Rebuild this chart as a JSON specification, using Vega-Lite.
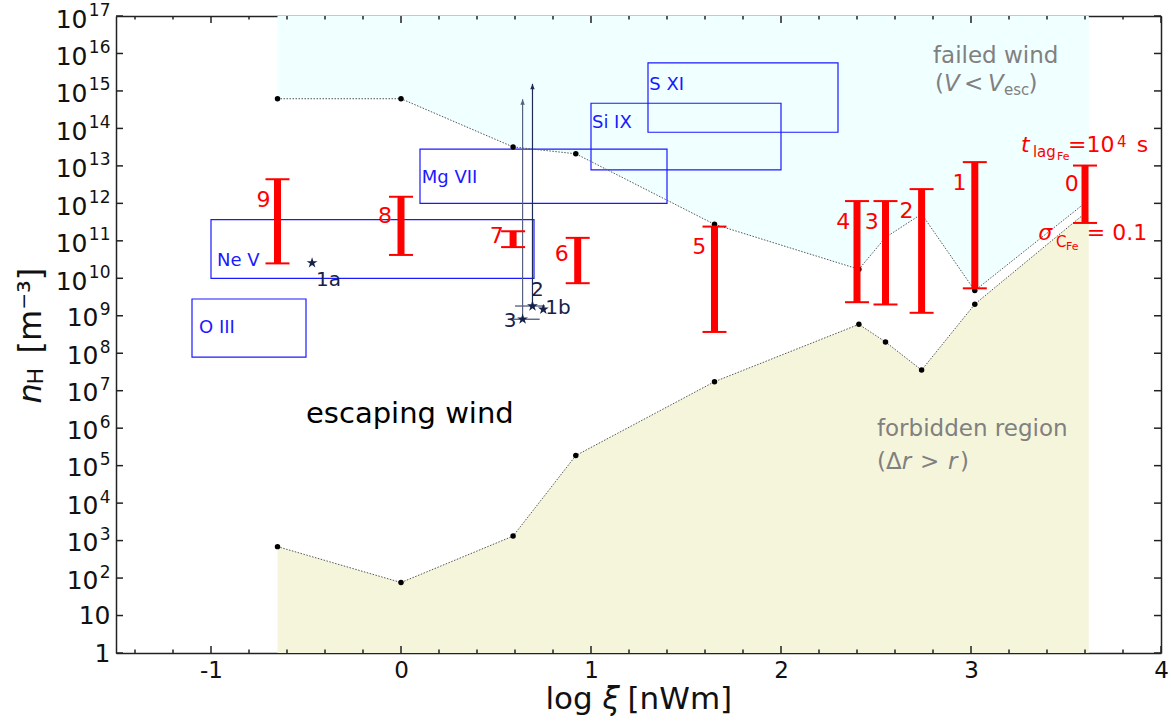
{
  "$schema": "https://vega.github.io/schema/vega-lite/v6.json",
  "width": 1045,
  "height": 637,
  "autosize": {"type": "none"},
  "padding": {"left": 116, "top": 16, "right": 10, "bottom": 69},
  "background": "white",
  "datasets": {
    "bound": [
      {"x": -0.65, "upper": 6.2e14, "lower": 690},
      {"x": 0, "upper": 6.2e14, "lower": 76},
      {"x": 0.59, "upper": 3.2e13, "lower": 1320},
      {"x": 0.92, "upper": 2.1e13, "lower": 1.86e5},
      {"x": 1.65, "upper": 2.75e11, "lower": 1.74e7},
      {"x": 2.41, "upper": 1.74e10, "lower": 5.9e8},
      {"x": 2.55, "upper": 1.23e11, "lower": 2.0e8},
      {"x": 2.74, "upper": 5.2e11, "lower": 3.55e7},
      {"x": 3.02, "upper": 4.7e9, "lower": 2.04e9},
      {"x": 3.62, "upper": 1.23e12, "lower": 6.6e11}
    ],
    "bars": [
      {"id": "9", "x": -0.65, "lo": 2.5e10, "hi": 4.4e12},
      {"id": "8", "x": 0, "lo": 4.2e10, "hi": 1.5e12},
      {"id": "7", "x": 0.59, "lo": 6.8e10, "hi": 1.8e11},
      {"id": "6", "x": 0.93, "lo": 7.4e9, "hi": 1.2e11},
      {"id": "5", "x": 1.65, "lo": 3.7e8, "hi": 2.4e11},
      {"id": "4", "x": 2.4, "lo": 2.3e9, "hi": 1.15e12},
      {"id": "3", "x": 2.55, "lo": 2.0e9, "hi": 1.15e12},
      {"id": "2", "x": 2.74, "lo": 1.2e9, "hi": 2.4e12},
      {"id": "1", "x": 3.02, "lo": 5.4e9, "hi": 1.26e13},
      {"id": "0", "x": 3.6, "lo": 3.0e11, "hi": 1.02e13}
    ],
    "barLabels": [
      {"t": "9", "x": -0.724, "y": 1.23e12},
      {"t": "8", "x": -0.084, "y": 4.57e11},
      {"t": "7", "x": 0.504, "y": 1.35e11},
      {"t": "6", "x": 0.846, "y": 4.37e10},
      {"t": "5", "x": 1.57, "y": 6.76e10},
      {"t": "4", "x": 2.328, "y": 3.24e11},
      {"t": "3", "x": 2.477, "y": 3.24e11},
      {"t": "2", "x": 2.66, "y": 6.3e11},
      {"t": "1", "x": 2.94, "y": 3.39e12},
      {"t": "0", "x": 3.53, "y": 3.24e12}
    ],
    "boxes": [
      {"name": "Ne V", "x1": -1.0, "x2": 0.7, "y1": 1e10, "y2": 3.7e11},
      {"name": "O III", "x1": -1.1, "x2": -0.5, "y1": 7.9e7, "y2": 2.8e9},
      {"name": "Mg VII", "x1": 0.1, "x2": 1.4, "y1": 1e12, "y2": 2.8e13},
      {"name": "Si IX", "x1": 1.0, "x2": 2.0, "y1": 7.8e12, "y2": 4.7e14},
      {"name": "S XI", "x1": 1.3, "x2": 2.3, "y1": 7.9e13, "y2": 5.6e15}
    ],
    "boxLabels": [
      {"t": "Ne V", "x": -0.968, "y": 2.88e10},
      {"t": "O III", "x": -1.063, "y": 4.68e8},
      {"t": "Mg VII", "x": 0.109, "y": 4.68e12},
      {"t": "Si IX", "x": 1.005, "y": 1.41e14},
      {"t": "S XI", "x": 1.307, "y": 1.45e15}
    ],
    "stars": [
      {"id": "1a", "x": -0.468, "y": 2.57e10},
      {"id": "2", "x": 0.692, "y": 1.82e9},
      {"id": "1b", "x": 0.749, "y": 1.48e9},
      {"id": "3", "x": 0.64, "y": 8.1e8}
    ],
    "starErr": [
      {"id": "2", "x1": 0.6, "x2": 0.758, "y": 1.82e9},
      {"id": "3", "x1": 0.58, "x2": 0.73, "y": 8.1e8}
    ],
    "arrows": [
      {"id": "2", "x": 0.692, "y1": 1.82e9, "y2": 1.55e15},
      {"id": "3", "x": 0.64, "y1": 8.1e8, "y2": 6.0e14}
    ],
    "starLabels": [
      {"t": "1a", "x": -0.382, "y": 8.9e9},
      {"t": "2", "x": 0.718, "y": 4.9e9},
      {"t": "1b", "x": 0.826, "y": 1.58e9},
      {"t": "3", "x": 0.574, "y": 7.2e8}
    ],
    "redText": [
      {"t": "=10", "x": 3.511, "y": 2.39e13},
      {"t": "s", "x": 3.872, "y": 2.39e13},
      {"t": "= 0.1", "x": 3.609, "y": 1.05e11}
    ],
    "redItalic": [
      {"t": "t", "x": 3.263, "y": 2.39e13},
      {"t": "σ", "x": 3.354, "y": 1.05e11}
    ],
    "redSub": [
      {"t": "lag", "x": 3.326, "y": 1.76e13},
      {"t": "C", "x": 3.447, "y": 6.97e10},
      {"t": "4", "x": 3.768, "y": 3.25e13}
    ],
    "redSub2": [
      {"t": "Fe", "x": 3.453, "y": 1.44e13},
      {"t": "Fe", "x": 3.5, "y": 5.69e10}
    ],
    "grayText": [
      {"t": "failed wind", "x": 2.8, "y": 5.57e15},
      {"t": "(", "x": 2.811, "y": 1.02e15},
      {"t": "<", "x": 2.963, "y": 1.02e15},
      {"t": ")", "x": 3.303, "y": 1.02e15},
      {"t": "forbidden region", "x": 2.505, "y": 6.18e5},
      {"t": "(Δ", "x": 2.505, "y": 8.15e4},
      {"t": ">", "x": 2.732, "y": 8.15e4},
      {"t": ")", "x": 2.942, "y": 8.15e4}
    ],
    "grayItalic": [
      {"t": "V", "x": 2.858, "y": 1.02e15},
      {"t": "V", "x": 3.089, "y": 1.02e15},
      {"t": "r", "x": 2.635, "y": 8.15e4},
      {"t": "r", "x": 2.879, "y": 8.15e4}
    ],
    "graySub": [
      {"t": "esc", "x": 3.174, "y": 7.8e14}
    ],
    "blackText": [
      {"t": "escaping wind", "x": -0.5, "y": 1.37e6}
    ],
    "xMajor": [{"v": -1}, {"v": 0}, {"v": 1}, {"v": 2}, {"v": 3}, {"v": 4}],
    "xMinor": [{"v": -1.4}, {"v": -1.2}, {"v": -0.8}, {"v": -0.6}, {"v": -0.4}, {"v": -0.2}, {"v": 0.2}, {"v": 0.4}, {"v": 0.6}, {"v": 0.8}, {"v": 1.2}, {"v": 1.4}, {"v": 1.6}, {"v": 1.8}, {"v": 2.2}, {"v": 2.4}, {"v": 2.6}, {"v": 2.8}, {"v": 3.2}, {"v": 3.4}, {"v": 3.6}, {"v": 3.8}],
    "yMajor": [{"v": 1}, {"v": 10}, {"v": 100}, {"v": 1000}, {"v": 1e4}, {"v": 1e5}, {"v": 1e6}, {"v": 1e7}, {"v": 1e8}, {"v": 1e9}, {"v": 1e10}, {"v": 1e11}, {"v": 1e12}, {"v": 1e13}, {"v": 1e14}, {"v": 1e15}, {"v": 1e16}, {"v": 1e17}],
    "dummy": [{"x": 0, "y": 1}]
  },
  "resolve": {"axis": {"x": "independent", "y": "independent"}},
  "layer": [
    {
      "data": {"name": "bound"},
      "mark": {"type": "area", "color": "#F0FFFF", "opacity": 1},
      "encoding": {
        "x": {"field": "x", "type": "quantitative", "scale": {"type": "linear", "domain": [-1.5, 4], "nice": false, "zero": false}, "axis": null},
        "y": {"field": "upper", "type": "quantitative", "scale": {"type": "log", "domain": [1, 1e17], "nice": false}, "axis": null},
        "y2": {"datum": 1e17}
      }
    },
    {
      "data": {"name": "bound"},
      "mark": {"type": "area", "color": "#F5F5DC", "opacity": 1},
      "encoding": {
        "x": {"field": "x", "type": "quantitative", "axis": null},
        "y": {"field": "lower", "type": "quantitative", "axis": null},
        "y2": {"datum": 1}
      }
    },
    {
      "data": {"name": "boxes"},
      "mark": {"type": "rect", "fill": null, "stroke": "#1a1aff", "strokeWidth": 1.2},
      "encoding": {
        "x": {"field": "x1", "type": "quantitative", "axis": null},
        "x2": {"field": "x2"},
        "y": {"field": "y1", "type": "quantitative", "axis": null},
        "y2": {"field": "y2"}
      }
    },
    {
      "data": {"name": "bound"},
      "mark": {"type": "line", "color": "#555", "strokeWidth": 1, "strokeDash": [1.5, 1.5]},
      "encoding": {
        "x": {"field": "x", "type": "quantitative", "axis": null},
        "y": {"field": "upper", "type": "quantitative", "axis": null}
      }
    },
    {
      "data": {"name": "bound"},
      "mark": {"type": "line", "color": "#555", "strokeWidth": 1, "strokeDash": [1.5, 1.5]},
      "encoding": {
        "x": {"field": "x", "type": "quantitative", "axis": null},
        "y": {"field": "lower", "type": "quantitative", "axis": null}
      }
    },
    {
      "data": {"name": "bound"},
      "transform": [{"filter": "datum.x < 3.5"}],
      "mark": {"type": "circle", "color": "black", "size": 30, "opacity": 1},
      "encoding": {
        "x": {"field": "x", "type": "quantitative", "axis": null},
        "y": {"field": "upper", "type": "quantitative", "axis": null}
      }
    },
    {
      "data": {"name": "bound"},
      "transform": [{"filter": "datum.x < 3.5"}],
      "mark": {"type": "circle", "color": "black", "size": 30, "opacity": 1},
      "encoding": {
        "x": {"field": "x", "type": "quantitative", "axis": null},
        "y": {"field": "lower", "type": "quantitative", "axis": null}
      }
    },
    {
      "data": {"name": "boxLabels"},
      "mark": {"type": "text", "align": "left", "baseline": "middle", "fontSize": 18, "color": "#1a1aff", "font": "DejaVu Sans"},
      "encoding": {
        "x": {"field": "x", "type": "quantitative", "axis": null},
        "y": {"field": "y", "type": "quantitative", "axis": null},
        "text": {"field": "t"}
      }
    },
    {
      "data": {"name": "starErr"},
      "mark": {"type": "rule", "color": "#1c2a55", "strokeWidth": 1},
      "encoding": {
        "x": {"field": "x1", "type": "quantitative", "axis": null},
        "x2": {"field": "x2"},
        "y": {"field": "y", "type": "quantitative", "axis": null}
      }
    },
    {
      "data": {"name": "arrows"},
      "mark": {"type": "rule", "strokeWidth": 1.2},
      "encoding": {
        "x": {"field": "x", "type": "quantitative", "axis": null},
        "y": {"field": "y1", "type": "quantitative", "axis": null},
        "y2": {"field": "y2"},
        "color": {"field": "id", "type": "nominal", "scale": {"domain": ["2", "3"], "range": ["#1c2a55", "#56627e"]}, "legend": null}
      }
    },
    {
      "data": {"name": "arrows"},
      "mark": {"type": "point", "shape": "M0,0 L-0.8,2 L0.8,2 Z", "size": 30, "filled": true, "opacity": 1},
      "encoding": {
        "x": {"field": "x", "type": "quantitative", "axis": null},
        "y": {"field": "y2", "type": "quantitative", "axis": null},
        "color": {"field": "id", "type": "nominal", "scale": {"domain": ["2", "3"], "range": ["#1c2a55", "#56627e"]}, "legend": null}
      }
    },
    {
      "data": {"name": "stars"},
      "mark": {"type": "point", "shape": "M0,-1 L0.225,-0.309 L0.951,-0.309 L0.363,0.118 L0.588,0.809 L0,0.382 L-0.588,0.809 L-0.363,0.118 L-0.951,-0.309 L-0.225,-0.309 Z", "size": 130, "filled": true, "opacity": 1, "color": "#16214a"},
      "encoding": {
        "x": {"field": "x", "type": "quantitative", "axis": null},
        "y": {"field": "y", "type": "quantitative", "axis": null}
      }
    },
    {
      "data": {"name": "starLabels"},
      "mark": {"type": "text", "align": "center", "baseline": "middle", "fontSize": 20, "color": "#16214a", "font": "DejaVu Sans"},
      "encoding": {
        "x": {"field": "x", "type": "quantitative", "axis": null},
        "y": {"field": "y", "type": "quantitative", "axis": null},
        "text": {"field": "t"}
      }
    },
    {
      "data": {"name": "bars"},
      "mark": {"type": "rule", "color": "red", "strokeWidth": 7},
      "encoding": {
        "x": {"field": "x", "type": "quantitative", "axis": null},
        "y": {"field": "lo", "type": "quantitative", "axis": null},
        "y2": {"field": "hi"}
      }
    },
    {
      "data": {"name": "bars"},
      "mark": {"type": "tick", "orient": "horizontal", "color": "red", "size": 24, "thickness": 2, "opacity": 1},
      "encoding": {
        "x": {"field": "x", "type": "quantitative", "axis": null},
        "y": {"field": "lo", "type": "quantitative", "axis": null}
      }
    },
    {
      "data": {"name": "bars"},
      "mark": {"type": "tick", "orient": "horizontal", "color": "red", "size": 24, "thickness": 2, "opacity": 1},
      "encoding": {
        "x": {"field": "x", "type": "quantitative", "axis": null},
        "y": {"field": "hi", "type": "quantitative", "axis": null}
      }
    },
    {
      "data": {"name": "barLabels"},
      "mark": {"type": "text", "align": "center", "baseline": "middle", "fontSize": 22, "color": "red", "font": "DejaVu Sans"},
      "encoding": {
        "x": {"field": "x", "type": "quantitative", "axis": null},
        "y": {"field": "y", "type": "quantitative", "axis": null},
        "text": {"field": "t"}
      }
    },
    {
      "data": {"name": "redText"},
      "mark": {"type": "text", "align": "left", "baseline": "alphabetic", "fontSize": 22, "color": "red", "font": "DejaVu Sans"},
      "encoding": {
        "x": {"field": "x", "type": "quantitative", "axis": null},
        "y": {"field": "y", "type": "quantitative", "axis": null},
        "text": {"field": "t"}
      }
    },
    {
      "data": {"name": "redItalic"},
      "mark": {"type": "text", "align": "left", "baseline": "alphabetic", "fontSize": 22, "fontStyle": "italic", "color": "red", "font": "DejaVu Sans"},
      "encoding": {
        "x": {"field": "x", "type": "quantitative", "axis": null},
        "y": {"field": "y", "type": "quantitative", "axis": null},
        "text": {"field": "t"}
      }
    },
    {
      "data": {"name": "redSub"},
      "mark": {"type": "text", "align": "left", "baseline": "alphabetic", "fontSize": 15, "color": "red", "font": "DejaVu Sans"},
      "encoding": {
        "x": {"field": "x", "type": "quantitative", "axis": null},
        "y": {"field": "y", "type": "quantitative", "axis": null},
        "text": {"field": "t"}
      }
    },
    {
      "data": {"name": "redSub2"},
      "mark": {"type": "text", "align": "left", "baseline": "alphabetic", "fontSize": 11, "color": "red", "font": "DejaVu Sans"},
      "encoding": {
        "x": {"field": "x", "type": "quantitative", "axis": null},
        "y": {"field": "y", "type": "quantitative", "axis": null},
        "text": {"field": "t"}
      }
    },
    {
      "data": {"name": "grayText"},
      "mark": {"type": "text", "align": "left", "baseline": "alphabetic", "fontSize": 23, "color": "#808080", "font": "DejaVu Sans"},
      "encoding": {
        "x": {"field": "x", "type": "quantitative", "axis": null},
        "y": {"field": "y", "type": "quantitative", "axis": null},
        "text": {"field": "t"}
      }
    },
    {
      "data": {"name": "grayItalic"},
      "mark": {"type": "text", "align": "left", "baseline": "alphabetic", "fontSize": 23, "fontStyle": "italic", "color": "#808080", "font": "DejaVu Sans"},
      "encoding": {
        "x": {"field": "x", "type": "quantitative", "axis": null},
        "y": {"field": "y", "type": "quantitative", "axis": null},
        "text": {"field": "t"}
      }
    },
    {
      "data": {"name": "graySub"},
      "mark": {"type": "text", "align": "left", "baseline": "alphabetic", "fontSize": 15, "color": "#808080", "font": "DejaVu Sans"},
      "encoding": {
        "x": {"field": "x", "type": "quantitative", "axis": null},
        "y": {"field": "y", "type": "quantitative", "axis": null},
        "text": {"field": "t"}
      }
    },
    {
      "data": {"name": "blackText"},
      "mark": {"type": "text", "align": "left", "baseline": "alphabetic", "fontSize": 29, "color": "black", "font": "DejaVu Sans"},
      "encoding": {
        "x": {"field": "x", "type": "quantitative", "axis": null},
        "y": {"field": "y", "type": "quantitative", "axis": null},
        "text": {"field": "t"}
      }
    },
    {
      "data": {"name": "xMajor"},
      "mark": {"type": "rule", "color": "#222", "strokeWidth": 1.5},
      "encoding": {
        "x": {"field": "v", "type": "quantitative", "axis": null},
        "y": {"datum": 1, "axis": null},
        "y2": {"datum": 1.538}
      }
    },
    {
      "data": {"name": "xMajor"},
      "mark": {"type": "rule", "color": "#222", "strokeWidth": 1.5},
      "encoding": {
        "x": {"field": "v", "type": "quantitative", "axis": null},
        "y": {"datum": 1e17, "axis": null},
        "y2": {"datum": 6.503e16}
      }
    },
    {
      "data": {"name": "xMinor"},
      "mark": {"type": "rule", "color": "#222", "strokeWidth": 1.5},
      "encoding": {
        "x": {"field": "v", "type": "quantitative", "axis": null},
        "y": {"datum": 1, "axis": null},
        "y2": {"datum": 1.24}
      }
    },
    {
      "data": {"name": "xMinor"},
      "mark": {"type": "rule", "color": "#222", "strokeWidth": 1.5},
      "encoding": {
        "x": {"field": "v", "type": "quantitative", "axis": null},
        "y": {"datum": 1e17, "axis": null},
        "y2": {"datum": 8.065e16}
      }
    },
    {
      "data": {"name": "yMajor"},
      "mark": {"type": "rule", "color": "#222", "strokeWidth": 1.5},
      "encoding": {
        "y": {"field": "v", "type": "quantitative", "axis": null},
        "x": {"datum": -1.5, "axis": null},
        "x2": {"datum": -1.4632}
      }
    },
    {
      "data": {"name": "yMajor"},
      "mark": {"type": "rule", "color": "#222", "strokeWidth": 1.5},
      "encoding": {
        "y": {"field": "v", "type": "quantitative", "axis": null},
        "x": {"datum": 4, "axis": null},
        "x2": {"datum": 3.9632}
      }
    },
    {
      "data": {"name": "dummy"},
      "mark": {"type": "point", "opacity": 0},
      "encoding": {
        "x": {"field": "x", "type": "quantitative", "axis": {"orient": "bottom", "values": [-1, 0, 1, 2, 3, 4], "ticks": false, "labelFontSize": 23, "labelPadding": 6, "labelExpr": "datum.value < 0 ? '-' + abs(datum.value) : '' + datum.value", "domain": true, "domainColor": "#222", "domainWidth": 1.5, "title": "log", "titleFontSize": 31, "titleX": 429, "titleY": 55, "titleAlign": "left", "titleBaseline": "alphabetic"}},
        "y": {"field": "y", "type": "quantitative", "axis": {"orient": "left", "values": [1, 10], "ticks": false, "labelFontSize": 25, "labelPadding": 6, "labelBaseline": "middle", "labelExpr": "datum.value < 5 ? '1' : '10'", "domain": true, "domainColor": "#222", "domainWidth": 1.5, "title": "n", "titleFontStyle": "italic", "titleFontSize": 32, "titleAngle": 270, "titleAlign": "left", "titleBaseline": "alphabetic", "titleX": -76, "titleY": 387}}
      }
    },
    {
      "data": {"name": "dummy"},
      "mark": {"type": "point", "opacity": 0},
      "encoding": {
        "x": {"field": "x", "type": "quantitative", "axis": {"orient": "bottom", "ticks": false, "labels": false, "domain": false, "title": "ξ", "titleFontStyle": "italic", "titleFontSize": 31, "titleX": 486, "titleY": 55, "titleAlign": "left", "titleBaseline": "alphabetic"}},
        "y": {"field": "y", "type": "quantitative", "axis": {"orient": "left", "ticks": false, "labels": false, "domain": false, "title": "H", "titleFontSize": 22, "titleAngle": 270, "titleAlign": "left", "titleBaseline": "alphabetic", "titleX": -74, "titleY": 368}}
      }
    },
    {
      "data": {"name": "dummy"},
      "mark": {"type": "point", "opacity": 0},
      "encoding": {
        "x": {"field": "x", "type": "quantitative", "axis": {"orient": "bottom", "ticks": false, "labels": false, "domain": false, "title": "[nWm]", "titleFontSize": 31, "titleX": 511, "titleY": 55, "titleAlign": "left", "titleBaseline": "alphabetic"}},
        "y": {"field": "y", "type": "quantitative", "axis": {"orient": "right", "ticks": false, "labels": false, "domain": true, "domainColor": "#222", "domainWidth": 1.5, "title": null}}
      }
    },
    {
      "data": {"name": "dummy"},
      "mark": {"type": "point", "opacity": 0},
      "encoding": {
        "x": {"field": "x", "type": "quantitative", "axis": {"orient": "top", "ticks": false, "labels": false, "domain": true, "domainColor": "#222", "domainWidth": 1.5, "title": null}},
        "y": {"field": "y", "type": "quantitative", "axis": {"orient": "left", "values": [100, 1000, 1e4, 1e5, 1e6, 1e7, 1e8, 1e9], "ticks": false, "labelFontSize": 25, "labelPadding": 18, "labelOffset": 2, "labelBaseline": "middle", "labelExpr": "'10'", "domain": false, "title": "[m⁻³]", "titleFontSize": 32, "titleAngle": 270, "titleAlign": "left", "titleBaseline": "alphabetic", "titleX": -76, "titleY": 337}}
      }
    },
    {
      "data": {"name": "dummy"},
      "mark": {"type": "point", "opacity": 0},
      "encoding": {
        "x": {"field": "x", "type": "quantitative", "axis": null},
        "y": {"field": "y", "type": "quantitative", "axis": {"orient": "left", "values": [1e10, 1e11, 1e12, 1e13, 1e14, 1e15, 1e16, 1e17], "ticks": false, "labelFontSize": 25, "labelPadding": 29, "labelOffset": 3, "labelBaseline": "middle", "labelExpr": "'10'", "domain": false, "title": null}}
      }
    },
    {
      "data": {"name": "dummy"},
      "mark": {"type": "point", "opacity": 0},
      "encoding": {
        "x": {"field": "x", "type": "quantitative", "axis": null},
        "y": {"field": "y", "type": "quantitative", "axis": {"orient": "left", "values": [100, 1000, 1e4, 1e5, 1e6, 1e7, 1e8, 1e9, 1e10, 1e11, 1e12, 1e13, 1e14, 1e15, 1e16, 1e17], "ticks": false, "labelFontSize": 17, "labelPadding": 6, "labelOffset": -6, "labelBaseline": "middle", "labelExpr": "'' + round(log(datum.value) / LN10)", "domain": false, "title": null}}
      }
    }
  ],
  "config": {
    "font": "DejaVu Sans",
    "view": {"stroke": null},
    "axis": {
      "grid": false,
      "labelFlush": false,
      "labelOverlap": false,
      "labelBound": false,
      "domain": false,
      "labelFont": "DejaVu Sans",
      "titleFont": "DejaVu Sans",
      "labelColor": "#111",
      "titleColor": "#111",
      "titleFontWeight": "normal",
      "zindex": 1
    }
  }
}
